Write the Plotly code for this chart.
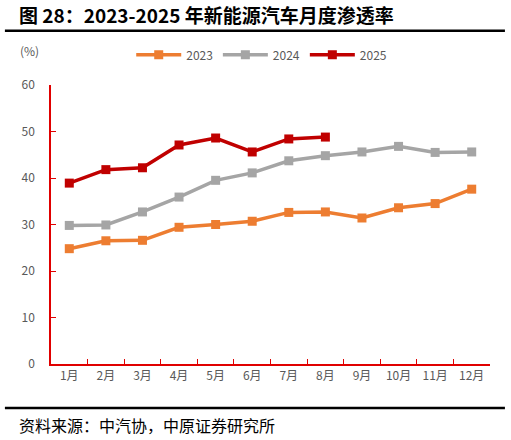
import plotly.graph_objects as go

months = ["1月", "2月", "3月", "4月", "5月", "6月", "7月", "8月", "9月", "10月", "11月", "12月"]
pen_2023 = [24.8, 26.5, 26.6, 29.4, 30.0, 30.7, 32.6, 32.7, 31.4, 33.6, 34.5, 37.6]
pen_2024 = [29.8, 29.9, 32.7, 35.9, 39.5, 41.1, 43.7, 44.8, 45.6, 46.8, 45.5, 45.6]
pen_2025 = [38.9, 41.8, 42.2, 47.1, 48.6, 45.6, 48.4, 48.8]

series = [
    ("2023", pen_2023, "#ED7D31"),
    ("2024", pen_2024, "#A5A5A5"),
    ("2025", pen_2025, "#C00000"),
]

fig = go.Figure()
for name, vals, color in series:
    fig.add_trace(go.Scatter(
        x=months[:len(vals)], y=vals, name=name, mode="lines+markers",
        line=dict(color=color, width=3.5),
        marker=dict(symbol="square", size=9, color=color)))

font_cn = "Noto Sans CJK SC"
fig.update_layout(
    width=511, height=440,
    margin=dict(l=51, r=21, t=85, b=76),
    plot_bgcolor="white", paper_bgcolor="white",
    font=dict(family=font_cn, size=12, color="#595959"),
    showlegend=True,
    legend=dict(orientation="h", x=0.48, xanchor="center", y=1.108, yanchor="middle",
                font=dict(size=12, color="#595959"), itemwidth=45,
                traceorder="normal"),
    xaxis=dict(type="category", range=[-0.5, 11.5], showline=True,
               linecolor="#E00000", linewidth=1.5, ticks="inside",
               tickson="boundaries", tickcolor="#E00000", ticklen=5,
               showgrid=False, automargin=False,
               tickfont=dict(size=12, color="#595959")),
    yaxis=dict(range=[0, 60], dtick=10, showline=True, linecolor="#E00000",
               linewidth=1.5, ticks="inside", tickcolor="#E00000", ticklen=5,
               showgrid=False, zeroline=False, ticklabelstandoff=12,
               automargin=False,
               tickfont=dict(size=12, color="#595959")),
)

# paper y = (364 - pixel_y) / 279
fig.add_annotation(text="<b>图 28：2023-2025 年新能源汽车月度渗透率</b>",
                   xref="paper", yref="paper", x=-0.078, y=1.251, xanchor="left",
                   yanchor="middle", showarrow=False,
                   font=dict(size=19, color="black", family=font_cn))
fig.add_annotation(text="(%)", xref="paper", yref="paper", x=-0.048, y=1.125,
                   xanchor="center", yanchor="middle", showarrow=False,
                   font=dict(size=12, color="#595959"))
fig.add_annotation(text="资料来源：中汽协，中原证券研究所", xref="paper", yref="paper",
                   x=-0.078, y=-0.219, xanchor="left", yanchor="middle",
                   showarrow=False, font=dict(size=16, color="black"))
fig.add_shape(type="line", xref="paper", yref="paper", x0=-0.105, x1=1.034,
              y0=1.194, y1=1.194, line=dict(color="black", width=2.5))
fig.add_shape(type="line", xref="paper", yref="paper", x0=-0.105, x1=1.034,
              y0=-0.158, y1=-0.158, line=dict(color="black", width=2.5))

fig.write_html("out.html", config={"displayModeBar": False},
               post_script="document.body.style.margin='0';")
